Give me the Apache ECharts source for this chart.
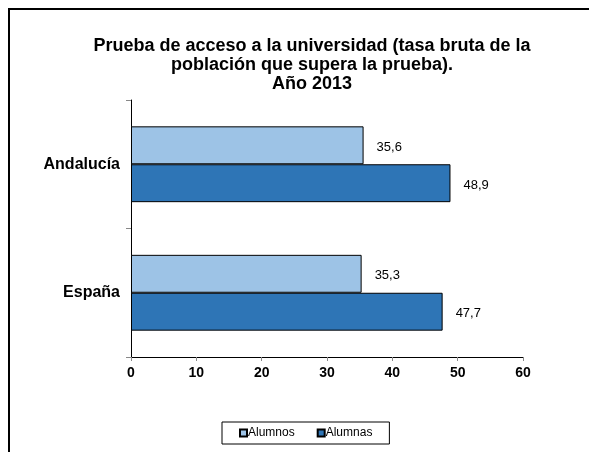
<!DOCTYPE html>
<html><head><meta charset="utf-8">
<script src="https://cdn.jsdelivr.net/npm/echarts@6/dist/echarts.min.js"></script>
<style>html,body{margin:0;padding:0;background:#fff}#c{width:589px;height:452px}</style>
</head><body><div id="c"></div>
<script>
const categories = ['Andalucía', 'España'];
const seriesNames = ['Alumnos', 'Alumnas'];
const alumnos = [35.6, 35.3];
const alumnas = [48.9, 47.7];
const xTicks = [0, 10, 20, 30, 40, 50, 60];

const chart = echarts.init(document.getElementById('c'), null, {renderer: 'canvas'});
const FONT = 'Liberation Sans, Arial, sans-serif';
const lbl = {
  show: true, position: 'right', distance: 13,
  color: '#000', fontFamily: FONT, fontSize: 13, offset: [0, 2],
  formatter: p => String(p.value).replace('.', ',')
};
chart.setOption({
  animation: false,
  backgroundColor: '#fff',
  title: {
    text: 'Prueba de acceso a la universidad (tasa bruta de la\npoblación que supera la prueba).\nAño 2013',
    left: 307, textAlign: 'center', top: 32,
    textStyle: {fontFamily: FONT, fontSize: 18, fontWeight: 'bold', color: '#000', lineHeight: 19}
  },
  graphic: [{
    type: 'rect', shape: {x: 9, y: 9, width: 800, height: 800},
    style: {fill: null, stroke: '#000', lineWidth: 2}, silent: true
  }],
  legend: {
    data: seriesNames, left: 222, top: 422, width: 166,
    itemWidth: 7, itemHeight: 7, itemGap: 22,
    icon: 'rect', borderColor: '#000', borderWidth: 1, padding: [5, 17, 5, 17],
    textStyle: {fontFamily: FONT, fontSize: 12, color: '#000', padding: [0, 0, 0, -4]}
  },
  grid: {left: 131, top: 100, width: 392, height: 257},
  xAxis: {
    type: 'value', min: xTicks[0], max: xTicks[xTicks.length - 1], interval: 10,
    splitLine: {show: false},
    axisLine: {show: true, lineStyle: {color: '#000', width: 1}},
    axisTick: {show: true, length: 4, lineStyle: {color: '#888'}},
    axisLabel: {color: '#000', fontFamily: FONT, fontSize: 14, fontWeight: 'bold', margin: 9}
  },
  yAxis: {
    type: 'category', data: categories, inverse: true,
    axisLine: {show: true, lineStyle: {color: '#000', width: 1}},
    axisTick: {show: true, length: 5, lineStyle: {color: '#888'}},
    axisLabel: {color: '#000', fontFamily: FONT, fontSize: 16, fontWeight: 'bold', margin: 11}
  },
  series: [
    {name: 'Alumnos', type: 'bar', data: alumnos, barCategoryGap: '41%', barGap: '0%',
     itemStyle: {color: '#9dc3e6', borderColor: '#000', borderWidth: 1}, label: lbl},
    {name: 'Alumnas', type: 'bar', data: alumnas, barCategoryGap: '41%', barGap: '0%',
     itemStyle: {color: '#2e75b6', borderColor: '#000', borderWidth: 1}, label: lbl}
  ]
});
</script></body></html>
